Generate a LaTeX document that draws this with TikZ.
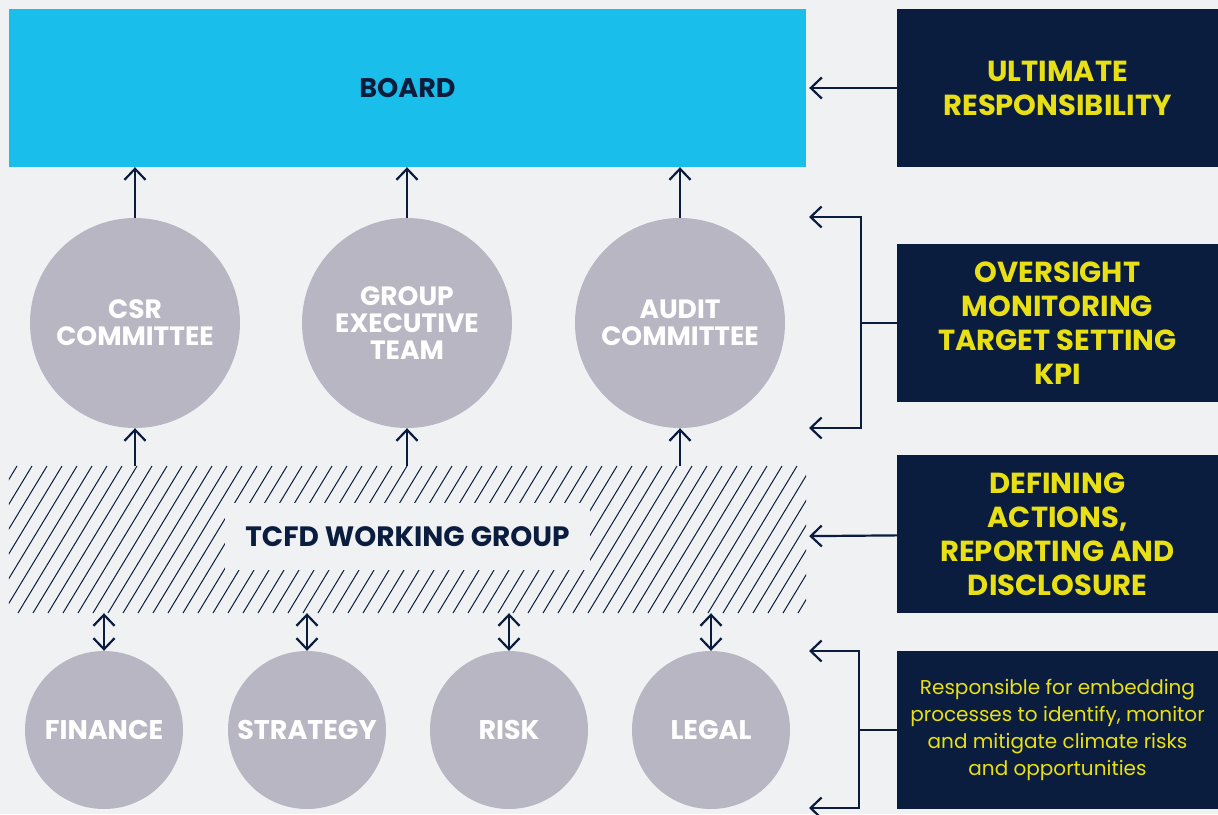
\documentclass[tikz,border=0pt]{standalone}
\usepackage{fontspec}
\setmainfont{Poppins}
\usetikzlibrary{arrows.meta}
\definecolor{paper}{HTML}{F0F1F3}
\definecolor{boardblue}{HTML}{19BFEA}
\definecolor{navy}{HTML}{0B1D3E}
\definecolor{flag}{HTML}{E8E015}
\definecolor{disc}{HTML}{B8B6C3}

\begin{document}
\begin{tikzpicture}[x=1pt,y=-1pt,
  board/.style={fill=boardblue,text=navy,minimum width=797,minimum height=158,
    inner sep=0,font=\bfseries\fontsize{27}{27}\selectfont},
  role/.style={fill=navy,text=flag,minimum width=321,minimum height=158,inner sep=0,
    align=center,font=\bfseries\fontsize{29}{34}\selectfont},
  bigdisc/.style={circle,fill=disc,text=white,minimum size=210,inner sep=0,
    align=center,font=\bfseries\fontsize{26.5}{27}\selectfont},
  smalldisc/.style={circle,fill=disc,text=white,minimum size=158,inner sep=0,
    font=\bfseries\fontsize{27}{27}\selectfont},
  link/.style={navy,line width=2.2pt},
  arr/.style={link,-{Straight Barb[length=11pt,width=21pt]}},
  both/.style={link,{Straight Barb[length=11pt,width=21pt]}-{Straight Barb[length=11pt,width=21pt]}}]
  \useasboundingbox[fill=paper] (0,0) rectangle (1218,814);

  \node[board] (board) at (407.5,88) {BOARD};

  \node[bigdisc] (csr) at (135,323) {CSR\\COMMITTEE};
  \node[bigdisc] (get) at (407,323) {GROUP\\EXECUTIVE\\TEAM};
  \node[bigdisc] (audit) at (680,323) {AUDIT\\COMMITTEE};

  \node[minimum width=797,minimum height=147,inner sep=0] (tcfd) at (407.5,539.5) {};
  \begin{scope}
    \clip (tcfd.south west) rectangle (tcfd.north east);
    \foreach \t in {2,17,...,902}
      \draw[navy,line width=1pt] (\t-89,613) -- (\t,466);
  \end{scope}
  \node[fill=paper,text=navy,minimum width=365,minimum height=67,inner sep=0,
    font=\bfseries\fontsize{28}{28}\selectfont] (wg) at (407.5,536.5) {TCFD WORKING GROUP};

  \node[smalldisc] (fin) at (104,730) {FINANCE};
  \node[smalldisc] (strat) at (307,730) {STRATEGY};
  \node[smalldisc] (risk) at (509,730) {RISK};
  \node[smalldisc] (legal) at (711,730) {LEGAL};

  \node[role] (ult) at (1057.5,88) {ULTIMATE\\RESPONSIBILITY};
  \node[role] (ovs) at (1057.5,323) {OVERSIGHT\\MONITORING\\TARGET SETTING\\KPI};
  \node[role] (def) at (1057.5,534) {DEFINING\\ACTIONS,\\REPORTING AND\\DISCLOSURE};
  \node[role,font=\fontsize{20}{27}\selectfont] (emb) at (1057.5,730)
    {Responsible for embedding\\processes to identify, monitor\\and mitigate climate risks\\and opportunities};

  \foreach \c in {csr,get,audit}{
    \draw[arr] (\c) -- (\c |- board.south);
    \draw[arr] (\c |- tcfd.north) -- (\c);
  }
  \foreach \c in {fin,strat,risk,legal}
    \draw[both] (\c) -- (\c |- tcfd.south);

  \draw[arr,shorten >=3pt] (ult) -- (board);
  \draw[arr,shorten >=3pt] (def) -- (tcfd);

  \coordinate (ovsT) at (809,217);
  \coordinate (ovsB) at (809,428);
  \draw[link] (ovs.west) -- ++(-36,0) coordinate (k1);
  \draw[both] (ovsT) -| (k1) |- (ovsB);

  \coordinate (embT) at (809,651);
  \coordinate (embB) at (809,808);
  \draw[link] (emb.west) -- ++(-38,0) coordinate (k2);
  \draw[both] (embT) -| (k2) |- (embB);
\end{tikzpicture}
\end{document}
